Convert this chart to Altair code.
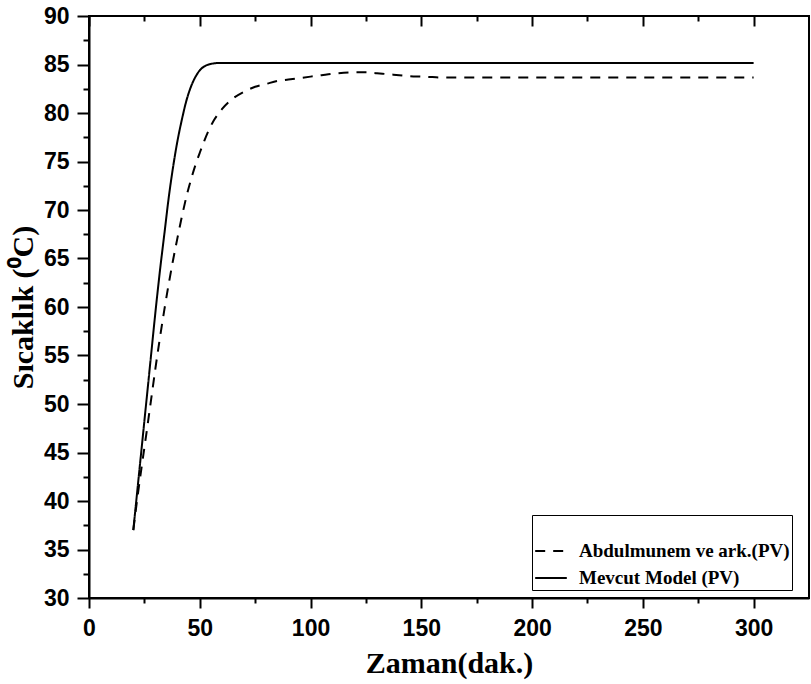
import altair as alt
import pandas as pd

# ---- data ----
series_names = ["Abdulmunem ve ark.(PV)", "Mevcut Model (PV)"]

abd_x = [20, 22, 24, 26, 28, 30, 32, 34, 36, 38, 40, 42, 44, 46, 48, 50, 52, 54, 56, 58, 60,
         65, 70, 75, 80, 85, 90, 95, 100, 105, 110, 115, 120, 125, 130, 135, 140, 145, 150,
         155, 160, 180, 200, 250, 300]
abd_y = [37.0, 40.6, 43.9, 47.1, 50.4, 53.7, 56.8, 59.7, 62.4, 64.9, 67.2, 69.4, 71.4, 73.1,
         74.6, 75.9, 77.1, 78.2, 79.1, 79.8, 80.4, 81.5, 82.2, 82.7, 83.0, 83.3, 83.45, 83.6,
         83.75, 83.9, 84.05, 84.15, 84.2, 84.2, 84.1, 84.0, 83.9, 83.8, 83.75, 83.7, 83.65,
         83.65, 83.65, 83.65, 83.65]

mod_x = [20, 22, 24, 26, 28, 30, 32, 34, 36, 38, 40, 42, 44, 46, 48, 50, 52, 54, 56, 58, 60,
         80, 100, 150, 200, 250, 300]
mod_y = [37.0, 41.5, 46.0, 50.5, 55.0, 59.5, 63.7, 67.5, 71.3, 74.5, 77.2, 79.4, 81.3, 82.7,
         83.7, 84.4, 84.8, 85.0, 85.1, 85.15, 85.15, 85.15, 85.15, 85.15, 85.15, 85.15, 85.15]

x_ticks = [0, 25, 50, 75, 100, 125, 150, 175, 200, 225, 250, 275, 300]
x_major = [0, 50, 100, 150, 200, 250, 300]
x_minor = [25, 75, 125, 175, 225, 275]
y_ticks = [30 + 2.5 * i for i in range(25)]

df = pd.concat([
    pd.DataFrame({"x": abd_x, "y": abd_y, "series": series_names[0]}),
    pd.DataFrame({"x": mod_x, "y": mod_y, "series": series_names[1]}),
], ignore_index=True)

xscale = alt.Scale(domain=[0, 325], nice=False, zero=False)
yscale = alt.Scale(domain=[30, 90], nice=False, zero=False)

sans = "Liberation Sans"
serif = "Liberation Serif"

base = alt.Chart(df)

lines = base.mark_line(color="black", strokeWidth=2, interpolate="monotone").encode(
    x=alt.X("x:Q", scale=xscale,
            axis=alt.Axis(values=x_ticks, title="Zaman(dak.)",
                          labelExpr="datum.value % 50 === 0 ? datum.label : ''",
                          tickSize={"condition": {"test": "datum.value % 50 === 0", "value": 10}, "value": 5},
                          labelOverlap=False, labelFlush=False, labelPadding=9, titlePadding=8)),
    y=alt.Y("y:Q", scale=yscale,
            axis=alt.Axis(values=y_ticks, title="Sıcaklık (⁰C)",
                          labelExpr="datum.value % 5 === 0 ? datum.label : ''",
                          tickSize={"condition": {"test": "datum.value % 5 === 0", "value": 12}, "value": 6},
                          labelOverlap=False, labelFlush=False, labelPadding=8, titlePadding=5)),
    strokeDash=alt.StrokeDash("series:N",
                              scale=alt.Scale(domain=series_names, range=[[10, 8], [1, 0]]),
                              legend=alt.Legend(orient="none", legendX=443, legendY=499,
                                                title=" ", titleFontSize=14, titlePadding=3,
                                                symbolType="stroke", symbolSize=1000,
                                                symbolStrokeColor="black", symbolStrokeWidth=2,
                                                labelFont=serif, labelFontWeight="bold",
                                                labelFontSize=19, labelLimit=400, labelOffset=11,
                                                fillColor="white", strokeColor="black",
                                                padding=2, rowPadding=0)),
    detail="series:N",
)

top_major = base.mark_line(opacity=0).encode(
    x=alt.X("x:Q", scale=xscale,
            axis=alt.Axis(orient="top", values=x_major, labels=False, domain=False,
                          tickSize=10, offset=-10, title=None, grid=False)),
    y=alt.Y("y:Q", scale=yscale, axis=None),
    detail="series:N",
)

top_minor = base.mark_line(opacity=0).encode(
    x=alt.X("x:Q", scale=xscale,
            axis=alt.Axis(orient="top", values=x_minor, labels=False, domain=False,
                          tickSize=5, offset=-5, title=None, grid=False)),
    y=alt.Y("y:Q", scale=yscale, axis=None),
    detail="series:N",
)

chart = alt.layer(lines, top_major, top_minor).resolve_axis(
    x="independent", y="independent"
).properties(
    width=720, height=582,
    autosize=alt.AutoSizeParams(type="none"),
    padding={"left": 89, "top": 16, "right": 2, "bottom": 86},
    background="white",
).configure_view(
    stroke="black", strokeWidth=2
).configure_axis(
    grid=False, domainColor="black", domainWidth=2, tickColor="black", tickWidth=2,
    labelFont=sans, labelFontWeight="bold", labelFontSize=23, labelColor="black",
    titleFont=serif, titleFontWeight="bold", titleFontSize=30, titleColor="black",
)

chart.save("out.html", embed_options={"renderer": "svg", "actions": False})
